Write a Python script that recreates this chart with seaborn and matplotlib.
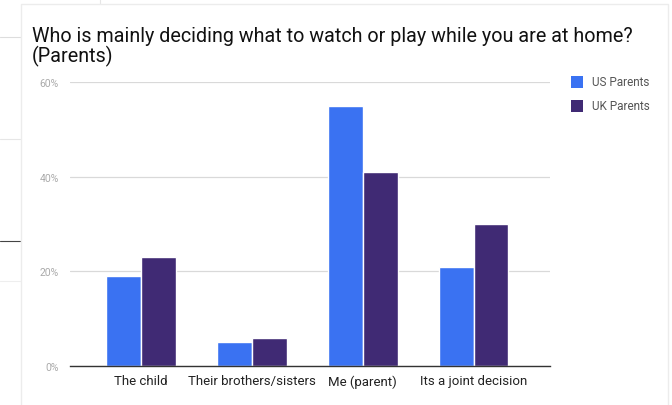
import pandas as pd
import matplotlib
from matplotlib import pyplot as plt
from matplotlib.lines import Line2D
from matplotlib.patches import Rectangle
import seaborn as sns

categories = ['The child', 'Their brothers/sisters', 'Me (parent)', 'Its a joint decision']
series = ['US Parents', 'UK Parents']
us_values = [19, 5, 55, 21]
uk_values = [23, 6, 41, 30]
colors = ['#3a72f2', '#402a74']

data = pd.DataFrame({
    'answer': categories * 2,
    'group': [series[0]] * len(categories) + [series[1]] * len(categories),
    'share': us_values + uk_values,
})

sns.set_theme(style='white')
plt.rcParams['font.family'] = ['Roboto', 'DejaVu Sans']

fig = plt.figure(figsize=(6.72, 4.06), dpi=100)

# screenshot background bits around the chart card
fig.add_artist(Line2D([0, 20 / 672], [1 - 140 / 406] * 2, color='#e6e6e6', lw=0.8, zorder=-3))
fig.add_artist(Line2D([0, 20 / 672], [1 - 242 / 406] * 2, color='#444444', lw=0.8, zorder=-3))
fig.add_artist(Line2D([0, 20 / 672], [1 - 282 / 406] * 2, color='#eeeeee', lw=0.8, zorder=-3))
fig.add_artist(Line2D([0, 20 / 672], [1 - 38 / 406] * 2, color='#dddddd', lw=0.8, zorder=-3))
fig.add_artist(Line2D([100 / 672] * 2, [1, 1 - 5 / 406], color='#e6e6e6', lw=0.8, zorder=-3))
fig.add_artist(Rectangle((21 / 672, -0.01), 647 / 672, 1 - 5 / 406 + 0.01,
                         transform=fig.transFigure, facecolor='white',
                         edgecolor='#ececec', lw=1, zorder=-2))

ax = fig.add_axes([70 / 672, 39 / 406, 480 / 672, 284 / 406])
ax.patch.set_alpha(0)
sns.barplot(data=data, x='answer', y='share', hue='group', palette=colors,
            width=0.63, saturation=1, ax=ax, legend=False)

ax.set_ylim(0, 60)
ax.set_xlim(-0.64, 3.69)
ax.set_yticks([0, 20, 40, 60])
ax.set_yticklabels([f'{v}%' for v in [0, 20, 40, 60]], color='#aaaaaa', fontsize=7.5)
ax.tick_params(axis='y', length=0, pad=8)
ax.tick_params(axis='x', length=0, pad=6, labelsize=9.5, labelcolor='#222222')
ax.grid(axis='y', color='#d9d9d9', lw=0.9)
ax.set_axisbelow(True)
for s in ['top', 'right', 'left']:
    ax.spines[s].set_visible(False)
ax.spines['bottom'].set_color('#333333')
ax.spines['bottom'].set_linewidth(1)
ax.set(xlabel='', ylabel='')

fig.text(32 / 672, 1 - 62 / 406,
         'Who is mainly deciding what to watch or play while you are at home?\n(Parents)',
         fontsize=14.2, color='#111111', linespacing=1.0, va='baseline')

# legend
for i, (name, c) in enumerate(zip(series, colors)):
    y = 1 - (83 + 24 * i) / 406
    fig.add_artist(Rectangle((571 / 672, y - 6 / 406), 12 / 672, 12 / 406,
                             transform=fig.transFigure, facecolor=c, edgecolor='none'))
    fig.text(592 / 672, y, name, fontsize=8.5, color='#555555', va='center')

plt.savefig('out.png', dpi=100)
